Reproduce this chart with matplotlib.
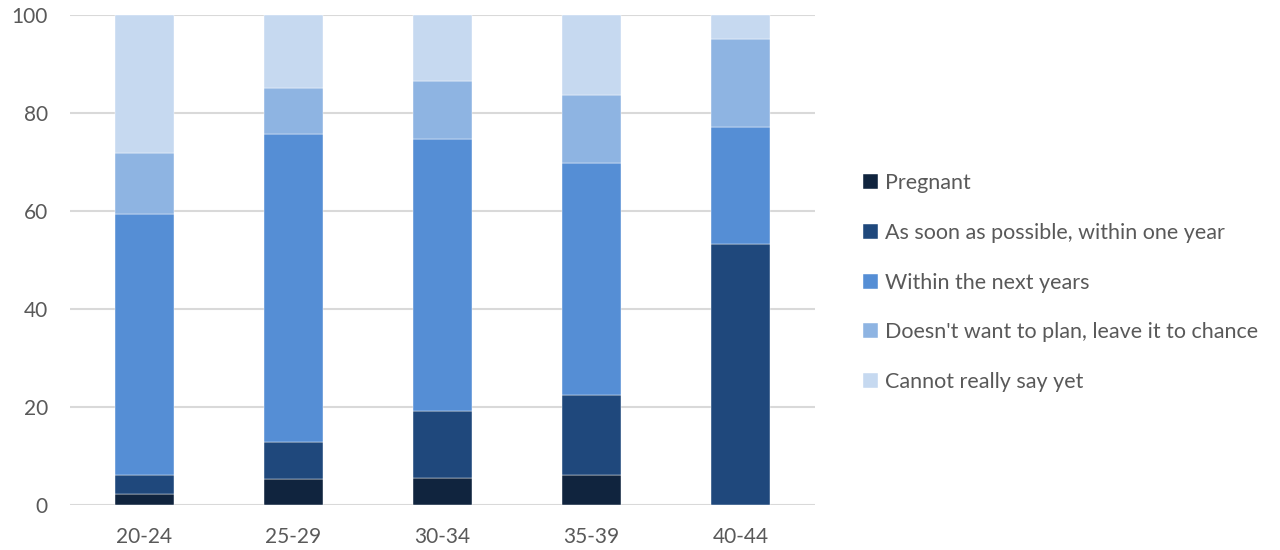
import matplotlib
matplotlib.use('Agg')
import matplotlib.pyplot as plt
import numpy as np

plt.rcParams['font.family'] = ['Lato', 'DejaVu Sans']

# age groups and share (%) per answer
groups = ['20-24', '25-29', '30-34', '35-39', '40-44']
pregnant = [2.2, 5.4, 5.6, 6.2, 0.0]
asap = [3.9, 7.4, 13.6, 16.3, 53.2]
within_years = [53.3, 63.0, 55.5, 47.4, 23.9]
leave_to_chance = [12.4, 9.4, 11.9, 13.7, 18.0]
cannot_say = [28.2, 14.8, 13.4, 16.4, 4.9]

series = [
    ('Pregnant', pregnant, '#10243e'),
    ('As soon as possible, within one year', asap, '#1f487c'),
    ('Within the next years', within_years, '#558ed5'),
    ("Doesn't want to plan, leave it to chance", leave_to_chance, '#8eb4e2'),
    ('Cannot really say yet', cannot_say, '#c6d9f0'),
]

fig = plt.figure(figsize=(12.8, 5.5), dpi=100)
ax = fig.add_axes([0.0547, 0.0818, 0.5820, 0.8909])

x = np.arange(len(groups))
bottom = np.zeros(len(groups))
handles = []
for name, vals, col in series:
    b = ax.bar(x, vals, 0.4, bottom=bottom, color=col, label=name, zorder=3,
               edgecolor='white', linewidth=0.3)
    handles.append(b)
    bottom += np.array(vals)

ax.set_xlim(-0.5, len(groups) - 0.5)
ax.set_ylim(0, 100)
ax.set_yticks([0, 20, 40, 60, 80, 100])
ax.set_xticks(x)
ax.set_xticklabels(groups)
ax.grid(axis='y', color='#d9d9d9', linewidth=1.5, zorder=0)
ax.set_axisbelow(True)
for s in ax.spines.values():
    s.set_visible(False)
ax.tick_params(axis='both', length=0, labelsize=15, labelcolor='#595959')
ax.tick_params(axis='y', pad=16)
ax.tick_params(axis='x', pad=16)

fig.legend(handles=handles, loc='center left', bbox_to_anchor=(0.659, 0.486),
           frameon=False, fontsize=15.5, labelspacing=1.38,
           handlelength=0.7, handleheight=0.7, handletextpad=0.35,
           labelcolor='#595959')

fig.savefig('out.png', dpi=100)
